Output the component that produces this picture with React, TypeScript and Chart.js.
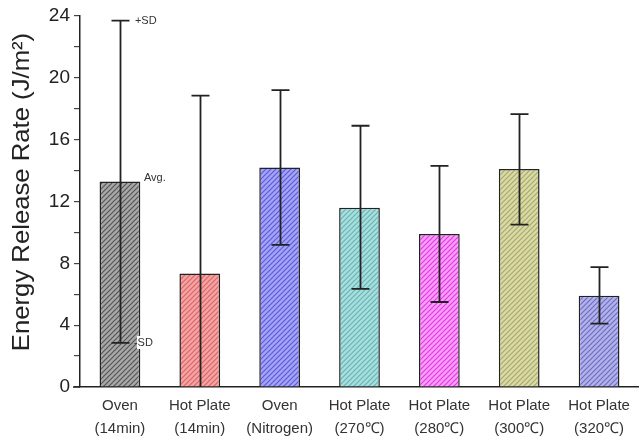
import React, { useEffect, useRef } from "react";
import { Chart, registerables } from "chart.js";

Chart.register(...registerables);

const categories: string[][] = [
  ["Oven", "(14min)"],
  ["Hot Plate", "(14min)"],
  ["Oven", "(Nitrogen)"],
  ["Hot Plate", "(270\u2103)"],
  ["Hot Plate", "(280\u2103)"],
  ["Hot Plate", "(300\u2103)"],
  ["Hot Plate", "(320\u2103)"],
];
const averages = [13.3, 7.35, 14.2, 11.6, 9.9, 14.1, 5.9];
const upperSD = [23.7, 18.85, 19.2, 16.9, 14.3, 17.65, 7.75];
const lowerSD = [2.85, -4.2, 9.2, 6.35, 5.5, 10.5, 4.1];
const fillColors = ["#a8a8a8", "#f4a4a4", "#a4a4f2", "#a8dede", "#ff9cff", "#dadaa8", "#b2b2ea"];
const hatchColors = ["#555555", "#dc6464", "#5a5ae0", "#68b4b4", "#dc3cdc", "#a8a868", "#6c6cc4"];
const yTicks = [0, 4, 8, 12, 16, 20, 24];

function makePattern(bg: string, line: string): CanvasPattern | string {
  const size = 5;
  const c = document.createElement("canvas");
  c.width = size;
  c.height = size;
  const ctx = c.getContext("2d");
  if (!ctx) return bg;
  ctx.fillStyle = bg;
  ctx.fillRect(0, 0, size, size);
  ctx.strokeStyle = line;
  ctx.lineWidth = 1.2;
  ctx.beginPath();
  for (let k = -1; k <= 1; k++) {
    ctx.moveTo(k * size - 1, size + 1);
    ctx.lineTo(k * size + size + 1, -1);
  }
  ctx.stroke();
  const p = ctx.createPattern(c, "repeat");
  return p || bg;
}

const errorBarPlugin = {
  id: "errorBars",
  afterDatasetsDraw(chart: any) {
    const { ctx, chartArea } = chart;
    const x = chart.scales.x;
    const y = chart.scales.y;
    ctx.save();
    ctx.beginPath();
    ctx.rect(chartArea.left, chartArea.top - 10, chartArea.right - chartArea.left, chartArea.bottom - chartArea.top + 10);
    ctx.clip();
    ctx.strokeStyle = "#222";
    ctx.lineWidth = 1.8;
    const cap = 9;
    averages.forEach((_, i) => {
      const cx = Math.round(x.getPixelForValue(i)) + 0.5;
      const yt = y.getPixelForValue(upperSD[i]);
      const yb = y.getPixelForValue(lowerSD[i]);
      ctx.beginPath();
      ctx.moveTo(cx, yt);
      ctx.lineTo(cx, yb);
      ctx.moveTo(cx - cap, yt);
      ctx.lineTo(cx + cap, yt);
      if (lowerSD[i] >= 0) {
        ctx.moveTo(cx - cap, yb);
        ctx.lineTo(cx + cap, yb);
      }
      ctx.stroke();
    });
    ctx.restore();

    // annotations
    ctx.save();
    ctx.font = "11px 'Liberation Sans', Arial, sans-serif";
    ctx.fillStyle = "#333";
    ctx.textBaseline = "middle";
    ctx.textAlign = "left";
    const c0 = x.getPixelForValue(0);
    ctx.fillText("+SD", c0 + 15, y.getPixelForValue(upperSD[0]));
    ctx.fillText("Avg.", c0 + 24, y.getPixelForValue(averages[0]) - 3);
    const ySd = y.getPixelForValue(lowerSD[0]);
    ctx.fillStyle = "#fff";
    ctx.fillRect(c0 + 17, ySd - 7, 20, 13);
    ctx.fillStyle = "#333";
    ctx.fillText("-SD", c0 + 14, ySd);
    ctx.restore();

    // x axis extension to the left
    ctx.save();
    ctx.strokeStyle = "#222";
    ctx.lineWidth = 1.5;
    ctx.beginPath();
    ctx.moveTo(chartArea.left - 7, chartArea.bottom);
    ctx.lineTo(chartArea.left, chartArea.bottom);
    ctx.stroke();
    ctx.restore();

    // y title
    ctx.save();
    ctx.translate(22, 192);
    ctx.rotate(-Math.PI / 2);
    ctx.scale(1.07, 1);
    ctx.fillStyle = "#222";
    ctx.textAlign = "center";
    ctx.textBaseline = "middle";
    ctx.font = "24px 'Liberation Sans', Arial, sans-serif";
    ctx.fillText("Energy Release Rate (J/m\u00B2)", 0, 0);
    ctx.restore();
  },
};

export default function App() {
  const ref = useRef<HTMLCanvasElement | null>(null);
  useEffect(() => {
    if (!ref.current) return;
    const patterns = fillColors.map((c, i) => makePattern(c, hatchColors[i]));
    const chart = new Chart(ref.current, {
      type: "bar",
      data: {
        labels: categories,
        datasets: [
          {
            data: averages,
            backgroundColor: patterns as any,
            borderColor: "#222",
            borderWidth: 1.5,
            categoryPercentage: 1,
            barPercentage: 0.51,
          },
        ],
      },
      options: {
        animation: false,
        responsive: false,
        events: [],
        layout: { padding: { top: 16, right: 0, left: 0, bottom: 0 } },
        plugins: { legend: { display: false }, tooltip: { enabled: false } },
        scales: {
          x: {
            grid: { display: false, drawTicks: false },
            border: { display: true, color: "#222", width: 1.5 },
            ticks: {
              color: "#333",
              padding: 8,
              maxRotation: 0,
              autoSkip: false,
              font: { size: 15, family: "'Liberation Sans', Arial, sans-serif", lineHeight: 1.5 },
            },
            afterFit: (s: any) => {
              s.height = 52;
            },
          },
          y: {
            min: 0,
            max: 24,
            grid: { drawOnChartArea: false, drawTicks: true, tickLength: 6, color: "#444", lineWidth: 1.2 },
            border: { display: true, color: "#222", width: 1.5 },
            ticks: {
              stepSize: 2,
              color: "#222",
              padding: 4,
              font: { size: 19, family: "'Liberation Sans', Arial, sans-serif" },
              callback: (v: any) => (yTicks.includes(Number(v)) ? String(v) : ""),
            },
            afterFit: (s: any) => {
              s.width = 80;
            },
          },
        },
      },
      plugins: [errorBarPlugin],
    });
    return () => chart.destroy();
  }, []);
  return (
    <div style={{ position: "fixed", left: 0, top: 0, width: 639, height: 439, background: "#fff" }}>
      <canvas ref={ref} width={639} height={439} />
    </div>
  );
}
